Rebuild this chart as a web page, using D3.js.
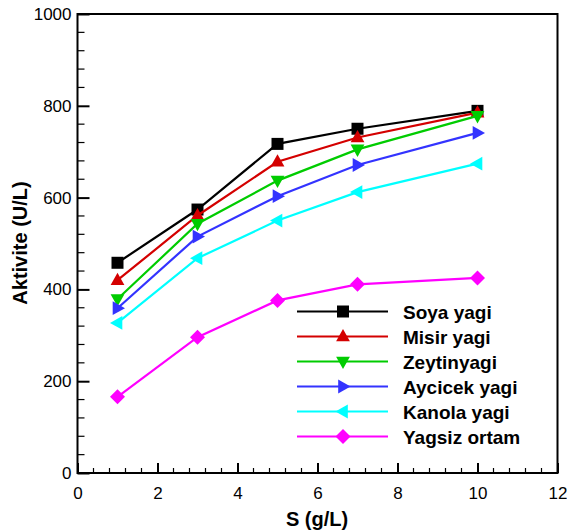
<!DOCTYPE html>
<html><head><meta charset="utf-8">
<script src="https://cdn.jsdelivr.net/npm/d3@7"></script>
<style>body{margin:0;background:#fff}svg{display:block}text{font-family:"Liberation Sans",Arial,sans-serif}</style>
</head><body>
<script>
const xValues = [1, 3, 5, 7, 10];
const seriesNames = ["Soya yagi", "Misir yagi", "Zeytinyagi", "Aycicek yagi", "Kanola yagi", "Yagsiz ortam"];
const soya = [458, 574, 717, 750, 789];
const misir = [420, 561, 678, 731, 785];
const zeytin = [379, 543, 637, 705, 778];
const aycicek = [359, 515, 603, 671, 741];
const kanola = [327, 468, 550, 612, 674];
const yagsiz = [166, 296, 376, 411, 425];
const xTicks = [0, 2, 4, 6, 8, 10, 12];
const yTicks = [0, 200, 400, 600, 800, 1000];
const colors = ["#000000", "#d40000", "#00cc00", "#3333ff", "#00ffff", "#ff00ff"];
const markers = ["square", "up", "down", "right", "left", "diamond"];
const allSeries = [soya, misir, zeytin, aycicek, kanola, yagsiz];

const W = 567, H = 531;
const svg = d3.select("body").append("svg").attr("width", W).attr("height", H);
const x = d3.scaleLinear().domain([0, 12]).range([77.5, 557.5]);
const y = d3.scaleLinear().domain([0, 1000]).range([473, 14]);

function markerPath(type, s) {
  switch (type) {
    case "square": return `M${-s},${-s}H${s}V${s}H${-s}Z`;
    case "up": return `M0,${-s*1.25}L${s*1.15},${s*0.8}L${-s*1.15},${s*0.8}Z`;
    case "down": return `M0,${s*1.25}L${s*1.15},${-s*0.8}L${-s*1.15},${-s*0.8}Z`;
    case "right": return `M${s*1.25},0L${-s*0.8},${s*1.15}L${-s*0.8},${-s*1.15}Z`;
    case "left": return `M${-s*1.25},0L${s*0.8},${s*1.15}L${s*0.8},${-s*1.15}Z`;
    case "diamond": return `M0,${-s*1.25}L${s*1.25},0L0,${s*1.25}L${-s*1.25},0Z`;
  }
}

// frame
svg.append("rect").attr("x", x(0)).attr("y", y(1000)).attr("width", x(12) - x(0)).attr("height", y(0) - y(1000))
  .attr("fill", "none").attr("stroke", "#000").attr("stroke-width", 2);

// x ticks (inside)
const xAxis = d3.axisBottom(x).tickValues(xTicks).tickSize(-10).tickPadding(14).tickFormat(d3.format("d"));
const gx = svg.append("g").attr("transform", `translate(0,${y(0)})`).call(xAxis);
gx.select(".domain").remove();
gx.selectAll(".tick line").attr("stroke-width", 2);
gx.selectAll("text").attr("font-size", 17).attr("fill", "#000");
const xMinor = d3.range(0, 12.001, 0.4).filter(v => Math.abs(v / 2 - Math.round(v / 2)) > 1e-6);
svg.append("g").selectAll("line").data(xMinor).join("line")
  .attr("x1", d => x(d)).attr("x2", d => x(d)).attr("y1", y(0)).attr("y2", y(0) - 5)
  .attr("stroke", "#000").attr("stroke-width", 1.2);

// y ticks (inside)
const yAxis = d3.axisLeft(y).tickValues(yTicks).tickSize(-12).tickPadding(6).tickFormat(d3.format("d"));
const gy = svg.append("g").attr("transform", `translate(${x(0)},0)`).call(yAxis);
gy.select(".domain").remove();
gy.selectAll(".tick line").attr("stroke-width", 2);
gy.selectAll("text").attr("font-size", 17).attr("fill", "#000");
const yMinor = d3.range(0, 1000.001, 40).filter(v => v % 200 !== 0);
svg.append("g").selectAll("line").data(yMinor).join("line")
  .attr("x1", x(0)).attr("x2", x(0) + 7).attr("y1", d => y(d)).attr("y2", d => y(d))
  .attr("stroke", "#000").attr("stroke-width", 1.2);

// axis titles
svg.append("text").attr("x", 317).attr("y", 526).attr("text-anchor", "middle")
  .attr("font-size", 20).attr("font-weight", "bold").text("S (g/L)");
svg.append("text").attr("transform", "translate(27,243) rotate(-90)").attr("text-anchor", "middle")
  .attr("font-size", 20).attr("font-weight", "bold").text("Aktivite (U/L)");

// series
const line = d3.line().x((d, i) => x(xValues[i])).y(d => y(d));
allSeries.forEach((vals, si) => {
  const g = svg.append("g");
  g.append("path").datum(vals).attr("d", line).attr("fill", "none")
    .attr("stroke", colors[si]).attr("stroke-width", 2.2);
  g.selectAll("path.m").data(vals).join("path").attr("class", "m")
    .attr("transform", (d, i) => `translate(${x(xValues[i])},${y(d)})`)
    .attr("d", markerPath(markers[si], 6)).attr("fill", colors[si]);
});

// legend
const legY0 = 311.5, legStep = 25;
seriesNames.forEach((name, si) => {
  const yy = legY0 + si * legStep;
  svg.append("line").attr("x1", 297).attr("x2", 388).attr("y1", yy).attr("y2", yy)
    .attr("stroke", colors[si]).attr("stroke-width", 2.2);
  svg.append("path").attr("transform", `translate(343,${yy})`).attr("d", markerPath(markers[si], 6)).attr("fill", colors[si]);
  svg.append("text").attr("x", 403).attr("y", yy + 7).attr("font-size", 19).attr("font-weight", "bold").text(name);
});
</script>
</body></html>
